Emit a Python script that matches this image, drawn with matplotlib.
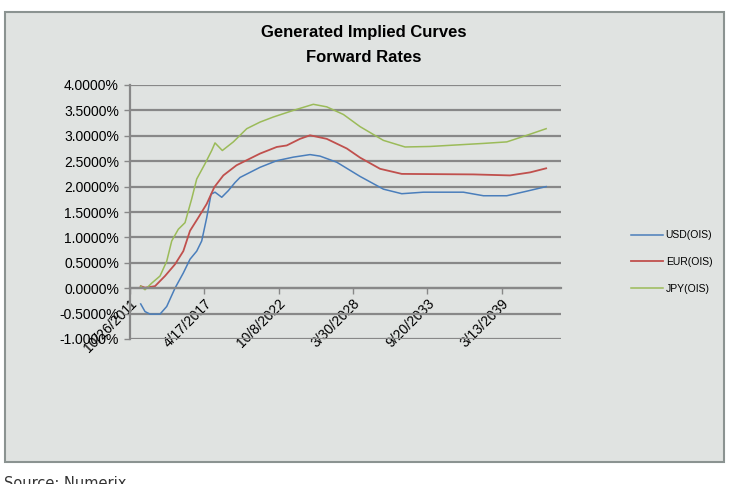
import numpy as np
import pandas as pd
import matplotlib
matplotlib.use("Agg")
import matplotlib.pyplot as plt
from matplotlib.patches import Rectangle
from matplotlib.ticker import FuncFormatter

# values (percent)
usd_dates = ["2012-08-09", "2012-12-03", "2013-04-17", "2014-01-11", "2014-07-10",
             "2015-02-18", "2015-09-30", "2016-03-28", "2016-09-25", "2017-02-06",
             "2017-06-21", "2017-10-15", "2018-01-30", "2018-07-30", "2019-01-23",
             "2019-07-23", "2019-12-04", "2021-05-26", "2022-08-18", "2023-11-08",
             "2025-01-31", "2025-10-27", "2027-01-20", "2028-10-09", "2030-06-28",
             "2031-11-04", "2033-06-08", "2036-05-20", "2037-11-10", "2039-08-01",
             "2041-01-21", "2042-06-25"]
usd = [-0.31, -0.46, -0.51, -0.51, -0.36, 0.00, 0.30, 0.57, 0.73, 0.93,
       1.39, 1.85, 1.89, 1.79, 1.92, 2.08, 2.18, 2.38, 2.51, 2.58,
       2.63, 2.60, 2.48, 2.20, 1.95, 1.86, 1.89, 1.89, 1.82, 1.82,
       1.91, 2.00]

eur_dates = ["2012-08-09", "2012-12-03", "2013-08-29", "2014-05-25", "2015-02-18",
             "2015-09-30", "2016-03-28", "2016-11-07", "2017-06-21", "2018-01-12",
             "2018-09-11", "2019-09-01", "2021-05-26", "2022-08-18", "2023-05-14",
             "2024-05-06", "2025-01-31", "2026-04-25", "2027-10-17", "2028-10-09",
             "2030-03-31", "2031-11-04", "2037-02-13", "2039-10-29", "2041-04-20",
             "2042-06-25"]
eur = [0.04, 0.01, 0.04, 0.24, 0.47, 0.73, 1.13, 1.39, 1.66, 1.99,
       2.22, 2.42, 2.65, 2.78, 2.81, 2.94, 3.01, 2.94, 2.75, 2.57,
       2.35, 2.25, 2.24, 2.22, 2.28, 2.36]

jpy_dates = ["2012-08-09", "2012-12-03", "2013-06-02", "2014-01-11", "2014-07-10",
             "2014-11-22", "2015-05-18", "2015-11-15", "2016-05-13", "2016-09-25",
             "2017-05-06", "2017-11-02", "2018-01-30", "2018-08-15", "2019-06-07",
             "2020-06-02", "2021-05-26", "2022-05-19", "2023-11-08", "2025-04-29",
             "2026-04-25", "2027-07-17", "2028-10-09", "2030-06-28", "2032-02-01",
             "2033-12-05", "2037-11-10", "2039-08-01", "2041-01-21", "2042-06-25"]
jpy = [0.04, -0.03, 0.10, 0.24, 0.53, 0.93, 1.16, 1.29, 1.76, 2.15,
       2.45, 2.71, 2.86, 2.71, 2.88, 3.14, 3.27, 3.37, 3.50, 3.62,
       3.57, 3.42, 3.18, 2.91, 2.78, 2.79, 2.85, 2.88, 3.01, 3.14]

tick_labels = ["10/26/2011", "4/17/2017", "10/8/2022", "3/30/2028", "9/20/2033", "3/13/2039"]

bg = "#e0e3e1"
grid_c = "#888888"

fig = plt.figure(figsize=(7.29, 4.84), dpi=100, facecolor="white")

# chart area box
fig.patches.append(Rectangle((5 / 729, 1 - 462 / 484), 719 / 729, 450 / 484,
                             transform=fig.transFigure, facecolor=bg,
                             edgecolor="#8b9391", linewidth=1.5, zorder=-5))

ax = fig.add_axes([130 / 729, 1 - 339 / 484, 431 / 729, 254 / 484])
ax.set_zorder(2)
ax.set_facecolor(bg)

ax.plot(pd.to_datetime(usd_dates), usd, color="#4a7ebb", lw=1.1, label="USD(OIS)")
ax.plot(pd.to_datetime(eur_dates), eur, color="#c0504d", lw=1.3, label="EUR(OIS)")
ax.plot(pd.to_datetime(jpy_dates), jpy, color="#9bbb59", lw=1.1, label="JPY(OIS)")

ax.set_ylim(-1.0, 4.0)
ax.set_yticks(np.arange(-1.0, 4.01, 0.5))
ax.yaxis.set_major_formatter(FuncFormatter(lambda v, p: f"{v:.4f}%"))
ax.grid(axis="y", color=grid_c, lw=1.6)
ax.set_axisbelow(True)

tick_dates = pd.to_datetime(tick_labels, format="%m/%d/%Y")
ax.set_xlim(tick_dates[0], tick_dates[0] + pd.Timedelta(days=11600))
ax.set_xticks(tick_dates)
ax.set_xticklabels(tick_labels)

for s in ["top", "right"]:
    ax.spines[s].set_visible(False)
ax.spines["left"].set_color(grid_c)
ax.spines["left"].set_linewidth(1.6)
ax.spines["bottom"].set_position(("data", 0))
ax.spines["bottom"].set_color(grid_c)
ax.spines["bottom"].set_linewidth(1.6)
ax.tick_params(axis="x", length=4, width=1, color=grid_c, pad=2, labelsize=10,
               labelrotation=45)
ax.tick_params(axis="y", length=4, width=1, color=grid_c, pad=4, labelsize=10)
for t in ax.get_yticklabels():
    t.set_family("Liberation Sans")
for t in ax.get_xticklabels():
    t.set_family("Liberation Sans")
    t.set_ha("right")
    t.set_va("top")
    t.set_rotation_mode("anchor")

fig.text(363.5 / 729, 1 - 33 / 484, "Generated Implied Curves", ha="center", va="center",
         fontsize=12, fontweight="bold", family="Liberation Sans")
fig.text(363.5 / 729, 1 - 58 / 484, "Forward Rates", ha="center", va="center",
         fontsize=12, fontweight="bold", family="Liberation Sans")

leg = ax.legend(loc="center left", bbox_to_anchor=(622 / 729, 1 - 262 / 484),
                bbox_transform=fig.transFigure, frameon=False,
                prop={"family": "Liberation Sans", "size": 7.5},
                handlelength=3.0, handletextpad=0.3, labelspacing=1.6)

fig.text(4 / 729, 1 - 476 / 484, "Source: Numerix", ha="left", va="top",
         fontsize=10.5, color="#333333")

fig.savefig("out.png", dpi=100, facecolor="white")
